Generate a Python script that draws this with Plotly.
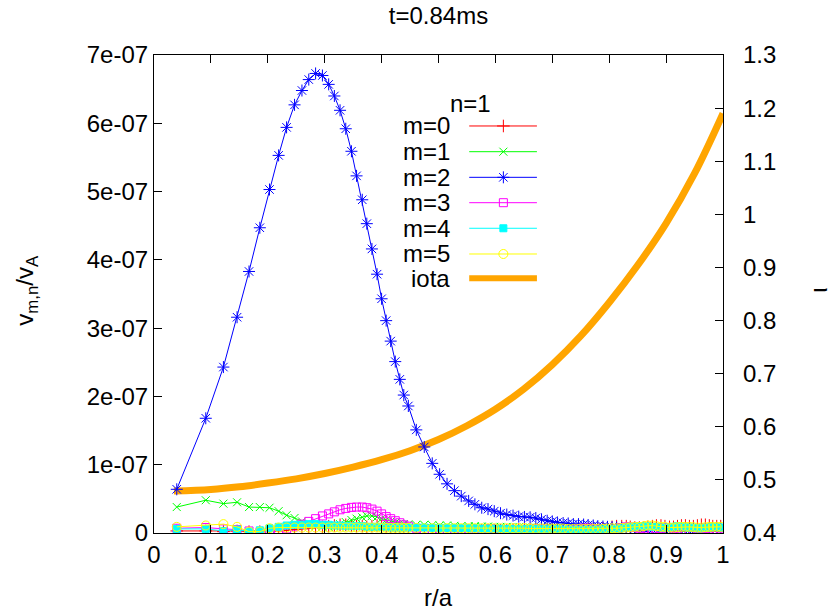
import numpy as np
import plotly.graph_objects as go

# ---------------- data ----------------
R = [0.040, 0.091, 0.122, 0.146, 0.167, 0.186, 0.203, 0.219, 0.233, 0.247,
     0.260, 0.272, 0.284, 0.296, 0.307, 0.317, 0.327, 0.337, 0.347, 0.356,
     0.366, 0.374, 0.383, 0.392, 0.400, 0.408, 0.416, 0.424, 0.432, 0.439, 0.447,
     0.461, 0.475, 0.489, 0.502, 0.515, 0.528, 0.540, 0.553, 0.564, 0.576,
     0.587, 0.598, 0.609, 0.620, 0.631, 0.641, 0.651, 0.661, 0.671, 0.681,
     0.691, 0.700, 0.709, 0.719, 0.728, 0.737, 0.746, 0.755, 0.763, 0.772,
     0.780, 0.789, 0.797, 0.805, 0.813, 0.822, 0.830, 0.837, 0.845, 0.853,
     0.861, 0.868, 0.876, 0.883, 0.891, 0.898, 0.906, 0.913, 0.920, 0.927,
     0.934, 0.941, 0.948, 0.955, 0.962, 0.969, 0.976, 0.982, 0.989, 0.996]

UNIT = 1e-7  # values below are in units of 1e-07

M0 = [0.03, 0.03, 0.02, 0.03, 0.02, 0.02, 0.03, 0.03, 0.04, 0.05,
      0.06, 0.07, 0.08, 0.09, 0.10, 0.11, 0.12, 0.12, 0.11, 0.10,
      0.10, 0.09, 0.10, 0.11, 0.10, 0.09, 0.08, 0.07, 0.06, 0.05, 0.05,
      0.04, 0.04, 0.04, 0.04, 0.03, 0.03, 0.03, 0.03, 0.04, 0.04,
      0.04, 0.04, 0.04, 0.04, 0.05, 0.05, 0.05, 0.05, 0.05, 0.05,
      0.05, 0.05, 0.05, 0.05, 0.05, 0.05, 0.05, 0.06, 0.06, 0.06,
      0.06, 0.07, 0.08, 0.09, 0.10, 0.10, 0.10, 0.09, 0.08, 0.08,
      0.08, 0.09, 0.10, 0.11, 0.11, 0.10, 0.09, 0.09, 0.10, 0.11,
      0.11, 0.10, 0.10, 0.11, 0.12, 0.12, 0.11, 0.10, 0.10, 0.10]

M1 = [0.38, 0.48, 0.43, 0.45, 0.38, 0.38, 0.37, 0.32, 0.26, 0.22,
      0.17, 0.13, 0.10, 0.09, 0.09, 0.10, 0.13, 0.16, 0.19, 0.21,
      0.23, 0.25, 0.25, 0.235, 0.21, 0.19, 0.17, 0.15, 0.14, 0.13, 0.125,
      0.12, 0.12, 0.115, 0.11, 0.11, 0.105, 0.10, 0.10, 0.10, 0.095,
      0.095, 0.09, 0.09, 0.09, 0.085, 0.085, 0.08, 0.08, 0.08, 0.08,
      0.075, 0.075, 0.075, 0.07, 0.07, 0.07, 0.07, 0.065, 0.065, 0.065,
      0.06, 0.06, 0.06, 0.06, 0.065, 0.07, 0.07, 0.075, 0.08, 0.08,
      0.085, 0.085, 0.08, 0.08, 0.075, 0.075, 0.07, 0.07, 0.07, 0.065,
      0.065, 0.06, 0.06, 0.065, 0.07, 0.07, 0.075, 0.08, 0.08, 0.08]

M2 = [0.64, 1.68, 2.43, 3.16, 3.83, 4.47, 5.03, 5.53, 5.94, 6.27,
      6.48, 6.64, 6.73, 6.70, 6.57, 6.40, 6.19, 5.92, 5.59, 5.23,
      4.88, 4.53, 4.16, 3.79, 3.43, 3.11, 2.81, 2.51, 2.25, 2.02, 1.86,
      1.51, 1.26, 1.02, 0.86, 0.72, 0.62, 0.54, 0.47, 0.42, 0.37,
      0.35, 0.32, 0.29, 0.27, 0.255, 0.24, 0.235, 0.23, 0.22, 0.20,
      0.18, 0.17, 0.155, 0.146, 0.14, 0.13, 0.13, 0.124, 0.117, 0.11,
      0.10, 0.095, 0.09, 0.085, 0.08, 0.075, 0.07, 0.07, 0.065, 0.06,
      0.06, 0.055, 0.05, 0.05, 0.05, 0.045, 0.05, 0.055, 0.06, 0.06,
      0.055, 0.05, 0.05, 0.045, 0.05, 0.05, 0.055, 0.06, 0.06, 0.055]

M3 = [0.07, 0.08, 0.06, 0.05, 0.03, 0.01, 0.02, 0.04, 0.06, 0.09,
      0.13, 0.17, 0.21, 0.25, 0.28, 0.31, 0.34, 0.36, 0.375, 0.38,
      0.38, 0.37, 0.35, 0.32, 0.28, 0.24, 0.21, 0.18, 0.15, 0.12, 0.10,
      0.07, 0.05, 0.04, 0.03, 0.03, 0.02, 0.02, 0.03, 0.04, 0.05,
      0.06, 0.06, 0.05, 0.04, 0.03, 0.03, 0.04, 0.05, 0.06, 0.06,
      0.05, 0.04, 0.03, 0.03, 0.04, 0.05, 0.06, 0.07, 0.07, 0.06,
      0.05, 0.04, 0.04, 0.05, 0.06, 0.08, 0.09, 0.09, 0.08, 0.07,
      0.06, 0.05, 0.05, 0.06, 0.07, 0.08, 0.08, 0.07, 0.06, 0.05,
      0.04, 0.04, 0.05, 0.06, 0.07, 0.07, 0.06, 0.05, 0.05, 0.06]

M4 = [0.06, 0.06, 0.03, 0.05, 0.02, 0.04, 0.07, 0.09, 0.11, 0.12,
      0.12, 0.13, 0.13, 0.12, 0.12, 0.11, 0.11, 0.10, 0.10, 0.10,
      0.10, 0.09, 0.09, 0.09, 0.09, 0.09, 0.08, 0.08, 0.08, 0.08, 0.08,
      0.08, 0.08, 0.075, 0.075, 0.07, 0.07, 0.07, 0.07, 0.07, 0.065,
      0.065, 0.065, 0.065, 0.06, 0.06, 0.06, 0.06, 0.06, 0.06, 0.055,
      0.055, 0.055, 0.055, 0.05, 0.05, 0.05, 0.05, 0.05, 0.05, 0.05,
      0.05, 0.055, 0.06, 0.06, 0.065, 0.07, 0.08, 0.09, 0.09, 0.10,
      0.10, 0.10, 0.09, 0.09, 0.08, 0.08, 0.08, 0.09, 0.10, 0.10,
      0.09, 0.08, 0.08, 0.07, 0.07, 0.08, 0.08, 0.09, 0.09, 0.08]

M5 = [0.09, 0.11, 0.13, 0.09, 0.02, 0.02, 0.07, 0.08, 0.08, 0.08,
      0.08, 0.08, 0.08, 0.08, 0.08, 0.08, 0.08, 0.08, 0.08, 0.08,
      0.08, 0.08, 0.08, 0.08, 0.075, 0.075, 0.075, 0.075, 0.075, 0.075, 0.075,
      0.075, 0.07, 0.07, 0.07, 0.07, 0.07, 0.07, 0.07, 0.07, 0.07,
      0.07, 0.07, 0.07, 0.07, 0.07, 0.07, 0.07, 0.065, 0.065, 0.065,
      0.065, 0.065, 0.065, 0.065, 0.06, 0.06, 0.06, 0.06, 0.06, 0.06,
      0.06, 0.06, 0.065, 0.07, 0.07, 0.075, 0.08, 0.085, 0.09, 0.09,
      0.10, 0.11, 0.11, 0.10, 0.09, 0.09, 0.08, 0.08, 0.085, 0.09,
      0.09, 0.09, 0.085, 0.08, 0.08, 0.085, 0.09, 0.09, 0.09, 0.09]

R_IOTA = [0.035, 0.10, 0.15, 0.20, 0.25, 0.30, 0.35, 0.40, 0.45, 0.50,
          0.55, 0.60, 0.65, 0.70, 0.75, 0.80, 0.85, 0.90, 0.95, 1.00]
IOTA = [0.479, 0.482, 0.487, 0.494, 0.502, 0.512, 0.524, 0.538, 0.555, 0.576,
        0.602, 0.633, 0.671, 0.717, 0.771, 0.834, 0.904, 0.983, 1.077, 1.190]

X_TICKS = [0, 0.1, 0.2, 0.3, 0.4, 0.5, 0.6, 0.7, 0.8, 0.9, 1]
X_LABELS = ["0", "0.1", "0.2", "0.3", "0.4", "0.5", "0.6", "0.7", "0.8", "0.9", "1"]
V_TICKS = [0, 1e-7, 2e-7, 3e-7, 4e-7, 5e-7, 6e-7, 7e-7]
V_LABELS = ["0", "1e-07", "2e-07", "3e-07", "4e-07", "5e-07", "6e-07", "7e-07"]
I_TICKS = [0.4, 0.5, 0.6, 0.7, 0.8, 0.9, 1.0, 1.1, 1.2, 1.3]
I_LABELS = ["0.4", "0.5", "0.6", "0.7", "0.8", "0.9", "1", "1.1", "1.2", "1.3"]

SERIES = [("m=0", M0, "#ff0000", "cross-thin-open", 9),
          ("m=1", M1, "#00ff00", "x-thin-open", 8),
          ("m=2", M2, "#0000ff", "asterisk-open", 10),
          ("m=3", M3, "#ff00ff", "square-open", 8),
          ("m=4", M4, "#00ffff", "square", 7),
          ("m=5", M5, "#ffff00", "circle-open", 9)]
IOTA_COLOR = "#ffa500"

FONT = "Liberation Sans, Arial, Helvetica, sans-serif"
FS = 24

# ---------------- figure ----------------
fig = go.Figure()

# iota on the base (right-side) axis so that the modes are drawn above it
fig.add_trace(go.Scatter(x=R_IOTA, y=IOTA, mode="lines", line=dict(color=IOTA_COLOR, width=7, shape="spline"),
                         xaxis="x", yaxis="y", showlegend=False, hoverinfo="skip"))

for name, vals, col, sym, sz in SERIES:
    v = np.array(vals) * UNIT
    fig.add_trace(go.Scatter(x=R, y=v, mode="lines+markers", name=name,
                             line=dict(color=col, width=1),
                             marker=dict(symbol=sym, size=sz, color=col,
                                         line=dict(color=col, width=1)),
                             xaxis="x", yaxis="y2", showlegend=False))

def txt(text, x, y, xanchor="center", angle=0):
    return dict(text=text, x=x, y=y, xref="paper", yref="paper", showarrow=False, textangle=angle,
                xanchor=xanchor, yanchor="middle", font=dict(size=FS, family=FONT, color="black"))

# ---------------- custom gnuplot-style key ----------------
KEY_TEXT_X = 0.524
KEY_L0, KEY_L1, KEY_MID = 0.554, 0.673, 0.614
KEY_ROWS = [0.8515, 0.7977, 0.7441, 0.6910, 0.6375, 0.5837, 0.5328]
annotations = [txt("n=1", 0.556, 0.899)]
shapes = []
for (name, vals, col, sym, sz), yy in zip(SERIES, KEY_ROWS):
    annotations.append(txt(name, KEY_TEXT_X, yy, "right"))
    shapes.append(dict(type="line", xref="paper", yref="paper", x0=KEY_L0, x1=KEY_L1, y0=yy, y1=yy,
                       line=dict(color=col, width=1)))
    fig.add_trace(go.Scatter(x=[KEY_MID], y=[yy], mode="markers", xaxis="x3", yaxis="y3", showlegend=False,
                             marker=dict(symbol=sym, size=sz, color=col, line=dict(color=col, width=1)),
                             hoverinfo="skip"))
annotations.append(txt("iota", KEY_TEXT_X, KEY_ROWS[6], "right"))
shapes.append(dict(type="line", xref="paper", yref="paper", x0=KEY_L0, x1=KEY_L1, y0=KEY_ROWS[6], y1=KEY_ROWS[6],
                   line=dict(color=IOTA_COLOR, width=6)))

# axis titles
annotations.append(txt("r/a", 0.5, -0.134))
annotations.append(txt("v<sub>m,n</sub>/v<sub>A</sub>", -0.224, 0.508, angle=-90))
annotations.append(txt("ι", 1.168, 0.508, angle=-90))

axis_common = dict(showline=True, linecolor="black", linewidth=1.2, ticks="inside", ticklen=8,
                   tickcolor="black", tickwidth=1, showgrid=False, zeroline=False, automargin=False,
                   tickfont=dict(size=FS, family=FONT, color="black"))

fig.update_layout(
    width=835, height=610,
    margin=dict(l=154, r=112, t=55, b=77),
    paper_bgcolor="white", plot_bgcolor="white",
    font=dict(family=FONT, size=FS, color="black"),
    title=dict(text="t=0.84ms", x=0.5, xref="paper", xanchor="center", y=0.975, yanchor="middle",
               font=dict(size=FS, family=FONT)),
    xaxis=dict(range=[0, 1], tickvals=X_TICKS, ticktext=X_LABELS, mirror="ticks", **axis_common),
    yaxis=dict(range=[0.4, 1.3], tickvals=I_TICKS, ticktext=I_LABELS, side="right", anchor="x",
               ticklabelstandoff=14, **axis_common),
    yaxis2=dict(range=[0, 7e-7], tickvals=V_TICKS, ticktext=V_LABELS, side="left", overlaying="y", anchor="x",
                **axis_common),
    xaxis3=dict(range=[0, 1], overlaying="x", visible=False, fixedrange=True),
    yaxis3=dict(range=[0, 1], overlaying="y", visible=False, fixedrange=True),
    annotations=annotations,
    shapes=shapes,
    showlegend=False,
)

fig.write_html("out.html")
